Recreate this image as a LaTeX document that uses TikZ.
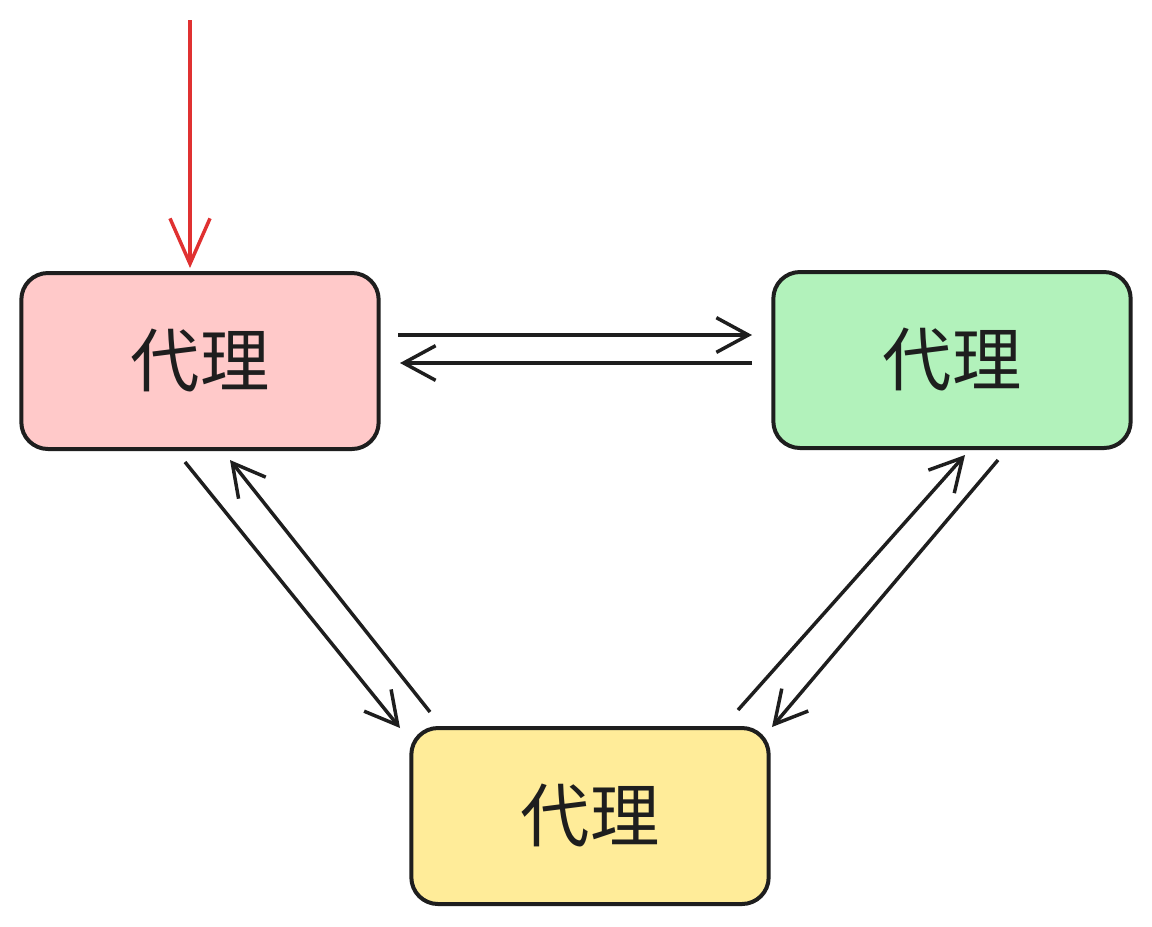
\documentclass[tikz,border=0pt]{standalone}
\usepackage{fontspec}
\newfontfamily\cjk{Noto Sans CJK SC}
\usetikzlibrary{arrows.meta}
\definecolor{rfill}{HTML}{FFC9C9}
\definecolor{gfill}{HTML}{B2F2BB}
\definecolor{yfill}{HTML}{FFEC99}
\definecolor{ink}{HTML}{1E1E1E}
\definecolor{redink}{HTML}{E03131}
\begin{document}
\begin{tikzpicture}[x=0.75pt,y=-0.75pt,
  box/.style={draw=ink,line width=3pt,rounded corners=20pt,minimum width=268pt,minimum height=132pt,font=\cjk\fontsize{52}{56}\selectfont,text=ink},
  conn/.style={draw=ink,line width=2.6pt,-{Straight Barb[length=24pt,width=26pt,line width=2.6pt]}}]
\useasboundingbox (0,0) rectangle (1152,926);
\fill[white] (0,0) rectangle (1152,926);
\node[box,fill=rfill] (r) at (200,361) {代理};
\node[box,fill=gfill] (g) at (952,360) {代理};
\node[box,fill=yfill] (y) at (590,816) {代理};
\coordinate (s) at (190,20);
\coordinate (rt) at (190,268);
\coordinate (a1) at (398,335); \coordinate (b1) at (752,335);
\coordinate (a2) at (752,363); \coordinate (b2) at (400,363);
\coordinate (a3) at (185,462); \coordinate (b3) at (400,728);
\coordinate (a4) at (430,712); \coordinate (b4) at (230,460);
\coordinate (a5) at (738,710); \coordinate (b5) at (965,455);
\coordinate (a6) at (998,460); \coordinate (b6) at (772,727);
\draw[conn,draw=redink,-{Straight Barb[length=34pt,width=30pt,line width=2.6pt]}] (s) -- (rt);
\draw[conn] (a1) -- (b1);
\draw[conn] (a2) -- (b2);
\draw[conn] (a3) -- (b3);
\draw[conn] (a4) -- (b4);
\draw[conn] (a5) -- (b5);
\draw[conn] (a6) -- (b6);
\end{tikzpicture}
\end{document}
